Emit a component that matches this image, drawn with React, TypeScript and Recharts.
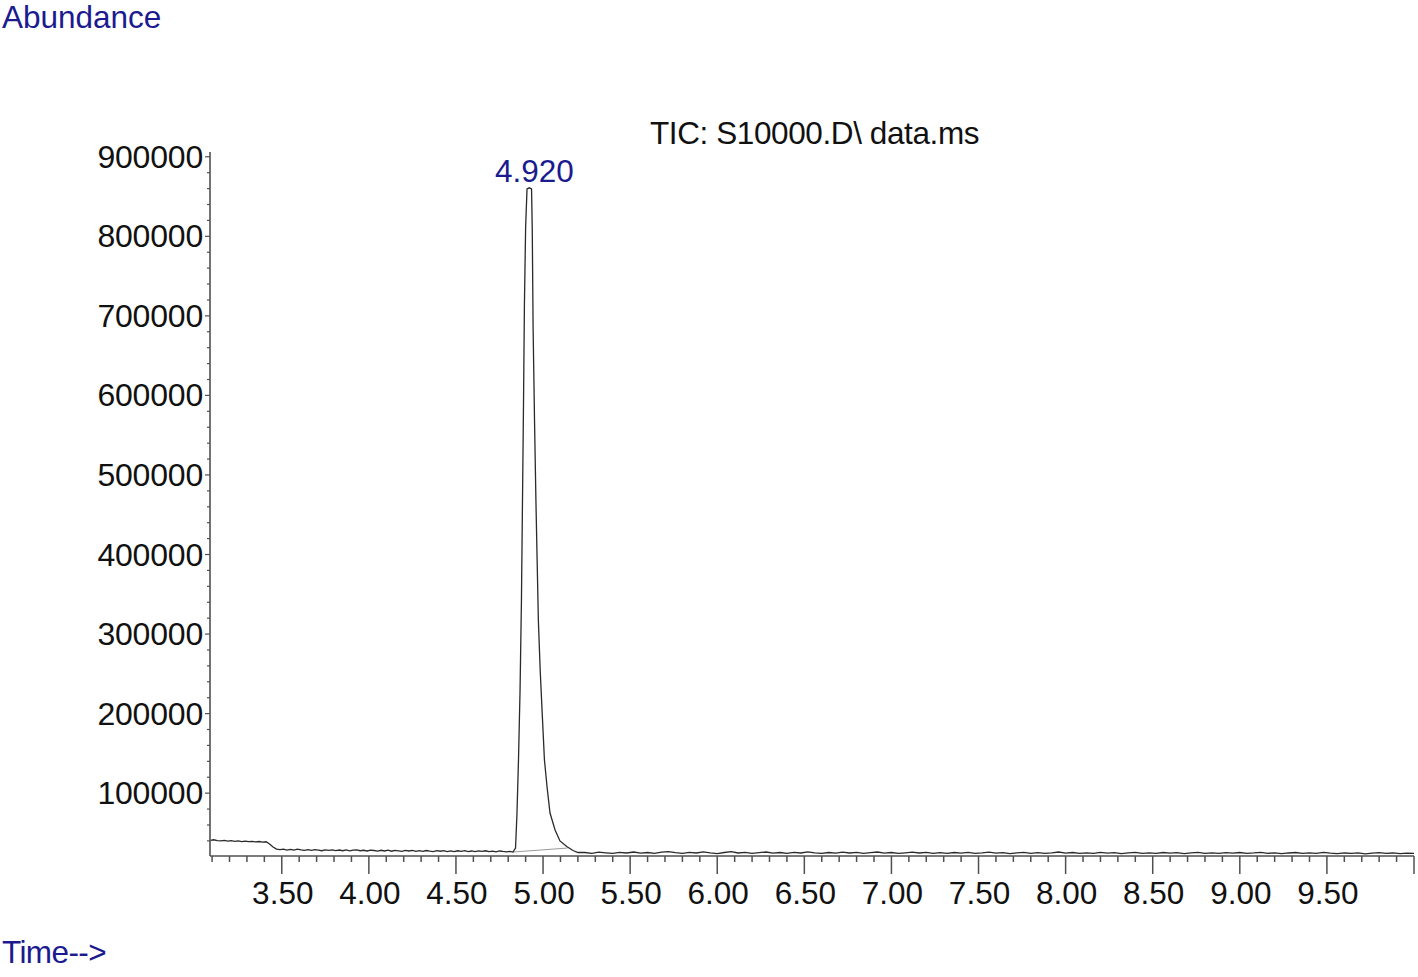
import React from 'react'
import { Line, LineChart, ReferenceDot, XAxis, YAxis } from 'recharts'

// [time (min), abundance]
const earlyBaseline: [number, number][] = [
  [3.09, 40500], [3.11, 41400], [3.13, 40300], [3.15, 40100], [3.17, 40700],
  [3.19, 39800], [3.21, 40200], [3.23, 39500], [3.25, 40000], [3.27, 39200],
  [3.29, 39700], [3.31, 39000], [3.33, 39500], [3.35, 38800], [3.37, 39200],
  [3.39, 38500], [3.41, 38900], [3.43, 36200], [3.45, 32400], [3.47, 29600],
]

const prePeak: [number, number][] = [
  [3.49, 29000], [3.51, 29600], [3.53, 28500], [3.55, 29300], [3.57, 28300],
  [3.59, 29700], [3.61, 28800], [3.63, 28100], [3.65, 28900], [3.67, 28000],
  [3.69, 29100], [3.71, 28400], [3.73, 27600], [3.75, 28700], [3.77, 28000],
  [3.79, 28800], [3.81, 27700], [3.83, 28500], [3.85, 27600], [3.87, 28600],
  [3.89, 27500], [3.91, 28300], [3.93, 28800], [3.95, 27600], [3.97, 28200],
  [3.99, 27300], [4.01, 28400], [4.03, 27900], [4.05, 27100], [4.07, 28200],
  [4.09, 27300], [4.11, 28300], [4.13, 27000], [4.15, 28000], [4.17, 27500],
  [4.19, 26800], [4.21, 28000], [4.23, 27300], [4.25, 28100], [4.27, 26900],
  [4.29, 27700], [4.31, 26800], [4.33, 27900], [4.35, 27200], [4.37, 26600],
  [4.39, 27700], [4.41, 27000], [4.43, 27800], [4.45, 26600], [4.47, 27400],
  [4.49, 26500], [4.51, 27600], [4.53, 26900], [4.55, 27700], [4.57, 26500],
  [4.59, 27300], [4.61, 26400], [4.63, 27500], [4.65, 26800], [4.67, 27600],
  [4.69, 26400], [4.71, 27100], [4.73, 26300], [4.75, 27300], [4.77, 26700],
  [4.79, 26200], [4.81, 26900],
]

const peak: [number, number][] = [
  [4.827, 26000], [4.842, 31000], [4.85, 72500], [4.859, 141700], [4.868, 229700],
  [4.876, 342800], [4.882, 468500], [4.888, 594200], [4.893, 713700], [4.9, 811900],
  [4.908, 859600], [4.921, 861000], [4.934, 859600], [4.938, 809300], [4.943, 683600],
  [4.951, 569100], [4.959, 468500], [4.966, 393100], [4.973, 317700], [4.984, 252300],
  [4.997, 192000], [5.008, 141700], [5.023, 107700], [5.04, 75000], [5.069, 53700],
  [5.097, 39900], [5.136, 32900], [5.172, 27900], [5.2, 25400],
]

const lateBaseline: [number, number][] = [
  [5.24, 25400], [5.28, 24400], [5.32, 25800], [5.36, 25000], [5.4, 24200],
  [5.44, 25600], [5.48, 24800], [5.52, 26000], [5.56, 24600], [5.6, 25400],
  [5.64, 24200], [5.68, 25800], [5.72, 26400], [5.76, 25200], [5.8, 24400],
  [5.84, 25600], [5.88, 24800], [5.92, 26200], [5.96, 25000], [6.0, 24000],
  [6.04, 25400], [6.08, 26400], [6.12, 24800], [6.16, 25600], [6.2, 24200],
  [6.24, 25200], [6.28, 26000], [6.32, 24600], [6.36, 25400], [6.4, 24400],
  [6.44, 25600], [6.48, 24800], [6.52, 26200], [6.56, 25000], [6.6, 24200],
  [6.64, 25400], [6.68, 24600], [6.72, 25800], [6.76, 24800], [6.8, 25600],
  [6.84, 24400], [6.88, 25200], [6.92, 26000], [6.96, 24600], [7.0, 25400],
  [7.04, 24200], [7.08, 25000], [7.12, 25800], [7.16, 24800], [7.2, 25600],
  [7.24, 24400], [7.28, 25200], [7.32, 24200], [7.36, 25400], [7.4, 24600],
  [7.44, 25600], [7.48, 24400], [7.52, 25000], [7.56, 25800], [7.6, 24600],
  [7.64, 25200], [7.68, 24000], [7.72, 25000], [7.76, 25600], [7.8, 24400],
  [7.84, 25200], [7.88, 24200], [7.92, 25000], [7.96, 26000], [8.0, 24600],
  [8.04, 25400], [8.08, 24200], [8.12, 25000], [8.16, 24400], [8.2, 25600],
  [8.24, 24600], [8.28, 25200], [8.32, 24000], [8.36, 24800], [8.4, 25600],
  [8.44, 24400], [8.48, 25000], [8.52, 24200], [8.56, 25400], [8.6, 24600],
  [8.64, 25200], [8.68, 24000], [8.72, 24800], [8.76, 25600], [8.8, 24400],
  [8.84, 25000], [8.88, 24200], [8.92, 25200], [8.96, 24600], [9.0, 25400],
  [9.04, 24200], [9.08, 24800], [9.12, 25600], [9.16, 24400], [9.2, 25000],
  [9.24, 24000], [9.28, 24800], [9.32, 25400], [9.36, 24200], [9.4, 25000],
  [9.44, 24400], [9.48, 25600], [9.52, 24600], [9.56, 24000], [9.6, 24800],
  [9.64, 24200], [9.68, 25000], [9.72, 23800], [9.76, 24600], [9.8, 25200],
  [9.84, 24200], [9.88, 24800], [9.92, 24000], [9.96, 24600], [10.0, 24200],
]

// integration baseline drawn under the peak
const integrationBaseline: [number, number][] = [[4.827, 26000], [5.14, 31000]]

const xLabels = ['3.50', '4.00', '4.50', '5.00', '5.50', '6.00', '6.50', '7.00', '7.50', '8.00', '8.50', '9.00', '9.50']
const yLabels = [100000, 200000, 300000, 400000, 500000, 600000, 700000, 800000, 900000]
const peakLabel = '4.920'

const toRows = (pts: [number, number][]) => pts.map(([t, v]) => ({ t, v }))
const tic = toRows([...earlyBaseline, ...prePeak, ...peak, ...lateBaseline])
const baseRows = toRows(integrationBaseline)

const xTicks: number[] = []
for (let i = 31; i <= 100; i++) xTicks.push(i / 10)
const yTicks: number[] = []
for (let v = 40000; v <= 900000; v += 20000) yTicks.push(v)

const FONT = '"Liberation Sans", Arial, sans-serif'
const BLUE = '#1b1b8f'
const AXIS = '#505050'

const XTick = (props: any) => {
  const { x, y, payload } = props
  const v = payload.value
  const major = Math.abs(v * 2 - Math.round(v * 2)) < 1e-6
  const label = xLabels.find((l) => Math.abs(parseFloat(l) - v) < 1e-6)
  return (
    <g>
      <line x1={x} x2={x} y1={y} y2={y + (major ? 18 : 6)} stroke={AXIS} strokeWidth={1.5} />
      {label && (
        <text x={x + 1} y={y + 48} textAnchor="middle" fontSize={31.5} fontFamily={FONT} fill="#111">
          {label}
        </text>
      )}
    </g>
  )
}

const YTick = (props: any) => {
  const { x, y, payload } = props
  const v = payload.value
  const major = yLabels.includes(v)
  return (
    <g>
      <line x1={x - (major ? 5 : 3)} x2={x} y1={y} y2={y} stroke={AXIS} strokeWidth={1.2} />
      {major && (
        <text x={x - 7} y={y + 11} textAnchor="end" fontSize={32} fontFamily={FONT} fill="#111" letterSpacing={-0.2}>
          {v}
        </text>
      )}
    </g>
  )
}

export default function App() {
  return (
    <div style={{ position: 'absolute', left: 0, top: 0, width: 1418, height: 977, background: '#fff' }}>
      <LineChart width={1418} height={977} margin={{ top: 152, right: 4, left: 10, bottom: 61 }}>
        <XAxis
          type="number"
          dataKey="t"
          domain={[3.088, 10]}
          allowDataOverflow
          ticks={xTicks}
          interval={0}
          tick={<XTick />}
          tickSize={0}
          tickMargin={0}
          tickLine={false}
          height={60}
          axisLine={{ stroke: AXIS, strokeWidth: 1.6 }}
        />
        <YAxis
          type="number"
          domain={[21000, 906000]}
          allowDataOverflow
          ticks={yTicks}
          interval={0}
          tick={<YTick />}
          tickSize={0}
          tickMargin={0}
          tickLine={false}
          width={200}
          axisLine={{ stroke: AXIS, strokeWidth: 1.6 }}
        />
        <Line data={baseRows} dataKey="v" type="linear" stroke="#9a9a9a" strokeWidth={1} dot={false} isAnimationActive={false} />
        <Line data={tic} dataKey="v" type="linear" stroke="#2a2a2a" strokeWidth={1.3} dot={false} isAnimationActive={false} />
        <ReferenceDot
          x={4.921}
          y={861000}
          r={0}
          stroke="none"
          label={{ value: peakLabel, position: 'top', offset: 6, dx: 5, fill: BLUE, fontSize: 31.5, fontFamily: FONT }}
        />
      </LineChart>
      <svg width={1418} height={977} style={{ position: 'absolute', left: 0, top: 0, pointerEvents: 'none' }}>
        <text x={2} y={28} fontSize={31.5} fontFamily={FONT} fill={BLUE}>Abundance</text>
        <text x={650} y={143.5} fontSize={31.5} fontFamily={FONT} fill="#111" letterSpacing={-0.4}>TIC: S10000.D\ data.ms</text>
        <text x={2} y={963} fontSize={31.5} fontFamily={FONT} fill={BLUE} letterSpacing={-0.6}>Time--&gt;</text>
      </svg>
    </div>
  )
}
